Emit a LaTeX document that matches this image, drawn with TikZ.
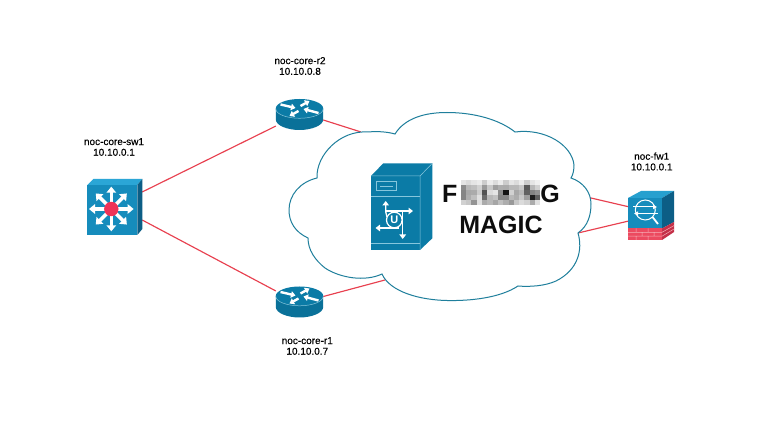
\documentclass[tikz,border=0pt]{standalone}
\usepackage{fontspec}
\setmainfont{Liberation Sans}
\usetikzlibrary{arrows.meta}
\definecolor{linkred}{HTML}{E8404F}
\definecolor{cloudline}{HTML}{1F7F9C}
\definecolor{ciscoblue}{HTML}{0B7BA6}
\definecolor{swfront}{HTML}{168CBC}
\definecolor{swtop}{HTML}{2BA6D6}
\definecolor{swside}{HTML}{0C5E86}
\definecolor{brick}{HTML}{EC4A60}
\definecolor{brickdark}{HTML}{C43048}
\definecolor{hotred}{HTML}{EE3358}
\definecolor{edgelight}{HTML}{86C6DC}
\tikzset{
  device/.style={inner sep=0pt,outer sep=0pt},
  devlabel/.style={inner sep=0pt,align=center,font=\fontsize{10}{10.7}\selectfont\addfontfeature{FakeBold=0.25},text=black},
  bigword/.style={inner sep=0pt,font=\fontsize{25}{27}\selectfont\bfseries,text=black!95},
  link/.style={draw=linkred,line width=1.15pt},
  whitearrow/.style={draw=white,line width=3.6pt,-{Triangle[width=9.5pt,length=6pt]}},
  thinarrow/.style={draw=white,line width=1.3pt,-{Triangle[width=6.5pt,length=4.5pt]}},
  routerarrow/.style={draw=white,line width=2.4pt,-{Triangle[width=6.5pt,length=4.5pt]}},
  pics/routericon/.style={code={
    \fill[ciscoblue!92!black] (-23.7,0) -- (-23.7,11) .. controls (-23.7,17) and (-12,21.5) .. (0,21.5) .. controls (12,21.5) and (23.7,17) .. (23.7,11) -- (23.7,0) -- cycle;
    \fill[ciscoblue] (0,0) ellipse[x radius=23.7,y radius=9.5];
    \draw[edgelight,line width=.5pt] (-23.7,0.3) .. controls (-23.7,6) and (-12,9.8) .. (0,9.8) .. controls (12,9.8) and (23.7,6) .. (23.7,0.3);
    \draw[routerarrow] (-19,-4) -- (-4,-.5);
    \draw[routerarrow] (19,4.5) -- (4,.5);
    \draw[routerarrow] (1,-2.5) -- (10,-7.5);
    \draw[routerarrow] (-1,2.5) -- (-10,7.5);
  }}
}
\begin{document}
\begin{tikzpicture}[x=1pt,y=-1pt]
\useasboundingbox (0,0) rectangle (769,422);
\fill[white] (0,0) rectangle (769,422);
% device anchors
\node[device,minimum width=55pt,minimum height=54pt] (sw1) at (114.7,206) {};
\node[device,minimum width=47.4pt,minimum height=31pt] (r2) at (299.5,114.5) {};
\node[device,minimum width=47.4pt,minimum height=30pt] (r1) at (299.5,302) {};
\node[device,minimum width=46pt,minimum height=50pt] (fw1) at (651,215) {};
\coordinate (cloudNW) at (361,132);
\coordinate (cloudSW) at (385,280);
\coordinate (cloudE) at (588,197.3);
\coordinate (cloudSE) at (578,233);
% connectors
\draw[link] (sw1.27) -- (r2.206);
\draw[link] (sw1.-27) -- (r1.155);
\draw[link] (r2.-13) -- (cloudNW);
\draw[link] (r1.13) -- (cloudSW);
\draw[link] (fw1.160) -- (cloudE);
\draw[link] (fw1.195) -- (cloudSE);
% cloud
\draw[cloudline,fill=white,line width=1pt] (395,134)
  .. controls (405,118) and (425,112.5) .. (447,112.5)
  .. controls (475,112.5) and (500,120) .. (515,132)
  .. controls (545,128) and (572,145) .. (574,165)
  .. controls (574,170) and (573,175) .. (571,178)
  .. controls (583,182) and (591,192) .. (591,204)
  .. controls (591,215) and (588,226) .. (578,233)
  .. controls (583,250) and (578,270) .. (556,281)
  .. controls (545,286) and (530,287) .. (518,286)
  .. controls (500,298) and (470,301) .. (447,300.5)
  .. controls (420,300) and (390,292) .. (382,274)
  .. controls (365,282) and (340,278) .. (325,268)
  .. controls (315,260) and (308,250) .. (308,238)
  .. controls (295,232) and (289,222) .. (289,210)
  .. controls (289,195) and (300,182) .. (317,178)
  .. controls (316,155) and (340,130) .. (368,132)
  .. controls (378,131) and (388,132) .. (395,134) -- cycle;
% switch icon
\fill[swtop] (87.3,185) -- (93.5,179) -- (142.3,179) -- (137.3,185) -- cycle;
\fill[swside] (137.3,185) -- (142.3,179) -- (142.3,229) -- (137.3,235) -- cycle;
\fill[swfront] (87.3,185) rectangle (137.3,235);
\foreach \a in {0,90,180,270} \draw[whitearrow] (111.3,209) -- ++(\a:22.3);
\foreach \a in {45,135,225,315} \draw[whitearrow] (111.3,209) -- ++(\a:22);
\fill[hotred] (111.3,209) circle[radius=7.2];
% routers
\pic at (299.5,108.5) {routericon};
\pic at (299.5,296) {routericon};
% server icon
\fill[ciscoblue] (371,176) -- (383.3,163.3) -- (432.3,163.3) -- (420,176) -- cycle;
\fill[ciscoblue] (420,176) -- (432.3,163.3) -- (432.3,238.3) -- (420,250) -- cycle;
\fill[ciscoblue] (371,176) rectangle (420,250);
\draw[edgelight,line width=.5pt] (371,176) -- (420,176) -- (432.3,163.3) (420,176) -- (420,250);
\draw[edgelight,line width=.8pt] (371,196.7) -- (420,196.7) (371,243) -- (420,243);
\draw[edgelight,line width=.9pt] (376,181.7) rectangle (396.7,190.7);
\draw[edgelight,line width=.9pt] (380,186.2) -- (392.5,186.2);
\draw[thinarrow] (387,217) .. controls (385.7,214) and (385.7,212) .. (385.7,201);
\draw[thinarrow] (385.7,211) -- (413,211);
\draw[thinarrow] (399,228) -- (375.5,228);
\draw[thinarrow] (402.7,212) .. controls (402.7,216) and (402.7,222) .. (402.7,239);
\draw[white,line width=1.2pt] (394.3,220) circle[radius=7.8];
\node[device,font=\fontsize{11}{11}\selectfont\bfseries,text=white] (umark) at (394.3,220) {U};
% big words
\node[bigword,anchor=base west] (wordF) at (442,203) {F};
\node[bigword,anchor=base east] (wordG) at (560,203) {G};
\node[bigword,anchor=base] (wordM) at (501,234) {MAGIC};
\foreach \g [count=\i from 0] in {
  10,14,10,8,20,8,14,8,20,10,14,8,20,10,6,
  45,28,25,18,40,22,38,32,33,28,28,22,65,28,18,
  48,34,33,20,68,14,10,45,92,18,34,28,62,48,42,
  48,32,25,12,58,28,24,48,48,28,32,22,38,88,62,
  18,22,42,12,33,28,35,25,32,40,22,14,18,33,12}
{
  \pgfmathtruncatemacro\cc{mod(\i,15)}
  \pgfmathtruncatemacro\rr{\i/15}
  \fill[black!\g] (460.8+\cc*5.3,180+\rr*5) rectangle ++(5.4,5.1);
}
% firewall icon
\fill[swtop!85!ciscoblue] (628,198) -- (641,191) -- (674,191) -- (662,198) -- cycle;
\fill[swside] (662,198) -- (674,191) -- (674,222) -- (662,228.5) -- cycle;
\fill[brickdark] (662,228.5) -- (674,222) -- (674,232) -- (662,240) -- cycle;
\fill[swfront] (628,198) rectangle (662,228.5);
\fill[brick] (628,228.5) rectangle (662,240);
\draw[brick!45!white,line width=.5pt] (628,232.3) -- (662,232.3) (628,236.2) -- (662,236.2)
  (636,228.5) -- (636,232.3) (648,228.5) -- (648,232.3) (642,232.3) -- (642,236.2) (654,232.3) -- (654,236.2) (636,236.2) -- (636,240) (648,236.2) -- (648,240)
  (662,232.3) -- (674,225.6) (662,236.2) -- (674,229);
\draw[white,line width=1pt] (645.3,210) circle[radius=10];
\draw[white,line width=1.8pt] (652.5,217) -- (658,224);
\draw[white,line width=1pt,-{Triangle[width=4pt,length=4pt]}] (633,207) -- (657,207);
\draw[white,line width=1pt,-{Triangle[width=4pt,length=4pt]}] (658,213.5) -- (634,213.5);
% labels
\node[devlabel] (lsw1) at (114,147) {noc-core-sw1\\10.10.0.1};
\node[devlabel] (lr2) at (300,66) {noc-core-r2\\10.10.0.8};
\node[devlabel] (lr1) at (307.3,346) {noc-core-r1\\10.10.0.7};
\node[devlabel] (lfw1) at (651.7,161.5) {noc-fw1\\10.10.0.1};
\end{tikzpicture}
\end{document}
